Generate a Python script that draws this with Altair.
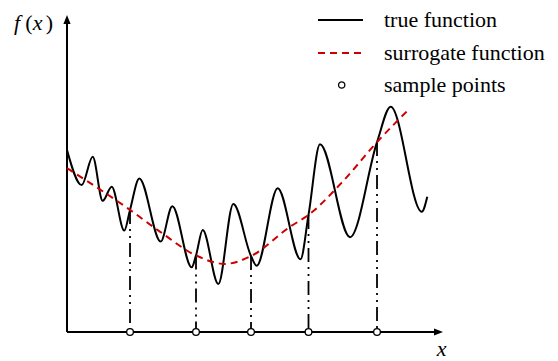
import altair as alt
import pandas as pd

# ---------------- data ----------------
true_x = [0.0, 0.391, 0.684, 0.949, 1.189, 1.524, 1.676, 1.923, 2.492, 2.801,
          3.316, 3.431, 3.609, 4.024, 4.423, 4.894, 5.045, 5.604, 6.210, 6.423,
          6.729, 7.527, 8.245, 8.609, 9.434, 9.582]
true_y = [5.80, 4.68, 5.58, 4.18, 4.63, 3.23, 3.89, 4.89, 2.88, 4.01,
          2.06, 2.44, 3.25, 1.53, 4.08, 2.42, 2.11, 4.58, 2.32, 3.73,
          5.98, 3.02, 6.05, 7.18, 3.83, 4.31]

surr_x = [0.0, 1.676, 2.47, 3.431, 4.20, 4.894, 5.93, 6.423, 7.30, 8.245, 9.122]
surr_y = [5.22, 3.89, 3.20, 2.44, 2.17, 2.42, 3.35, 3.73, 4.75, 6.05, 7.13]

sample_x = [1.676, 3.431, 4.894, 6.423, 8.245]
sample_y = [3.89, 2.44, 2.42, 3.73, 6.05]

legend_labels = ["true function", "surrogate function", "sample points"]
x_label = "x"
y_label_parts = ["f", "(", "x", ")"]

X_MAX = 10.0
Y_MAX = 10.1
W, H = 376, 317
FONT = "'Liberation Serif', 'Times New Roman', 'DejaVu Serif', serif"
FS = 22
RED = "#cc0000"

xs = alt.Scale(domain=[0, X_MAX], nice=False, zero=False)
ys = alt.Scale(domain=[0, Y_MAX], nice=False, zero=False)

true_df = pd.DataFrame({"x": true_x, "y": true_y})
surr_df = pd.DataFrame({"x": surr_x, "y": surr_y})
samp_df = pd.DataFrame({"x": sample_x, "y": sample_y, "zero": [0.0] * len(sample_x)})
axes_df = pd.DataFrame({"x": [0.0, 0.0], "y": [0.0, 0.0],
                        "x2": [X_MAX - 0.1, 0.0], "y2": [0.0, Y_MAX - 0.1]})


def X(f="x"):
    return alt.X(f"{f}:Q", scale=xs, axis=None)


def Y(f="y"):
    return alt.Y(f"{f}:Q", scale=ys, axis=None)


axes = alt.Chart(axes_df).mark_rule(color="black", strokeWidth=2).encode(
    x=X(), y=Y(), x2="x2:Q", y2="y2:Q")

x_arrow = alt.Chart(pd.DataFrame({"x": [X_MAX], "y": [0.0]})).mark_point(
    shape="M1,0L-1,-0.8L-1,0.8Z", filled=True, size=81, color="black",
    opacity=1, xOffset=-4.5).encode(x=X(), y=Y())
y_arrow = alt.Chart(pd.DataFrame({"x": [0.0], "y": [Y_MAX]})).mark_point(
    shape="M0,-1L-0.8,1L0.8,1Z", filled=True, size=81, color="black",
    opacity=1, yOffset=4.5).encode(x=X(), y=Y())

drops = alt.Chart(samp_df).mark_rule(
    color="black", strokeWidth=1.8, strokeDash=[14, 5, 2, 5, 2, 5]).encode(
    x=X(), y=Y(), y2="zero:Q")

true_line = alt.Chart(true_df).mark_line(
    color="black", strokeWidth=2, interpolate="monotone").encode(x=X(), y=Y())

surr_line = alt.Chart(surr_df).mark_line(
    color=RED, strokeWidth=2, strokeDash=[7, 5], interpolate="monotone").encode(x=X(), y=Y())

circles = alt.Chart(samp_df).mark_point(
    shape="circle", filled=True, fill="white", stroke="black", strokeWidth=1.3,
    size=45, opacity=1).encode(x=X(), y=Y("zero"))

layers = [axes, x_arrow, y_arrow, drops, true_line, surr_line, circles]

# ---- y label f (x)
yl_x = [-50, -38, -29.5, -17.5]
yl_italic = [True, False, True, False]
for t, px, it in zip(y_label_parts, yl_x, yl_italic):
    layers.append(alt.Chart(pd.DataFrame({"t": [t]})).mark_text(
        font=FONT, fontSize=FS, fontStyle="italic" if it else "normal",
        align="center", baseline="alphabetic", color="black").encode(
        text="t:N", x=alt.value(px), y=alt.value(15)))

# ---- x label
layers.append(alt.Chart(pd.DataFrame({"t": [x_label]})).mark_text(
    font=FONT, fontSize=FS, fontStyle="italic", align="center",
    baseline="alphabetic", color="black").encode(
    text="t:N", x=alt.value(374.5), y=alt.value(341)))

# ---- legend
row_y = [5, 38, 70]
layers.append(alt.Chart(pd.DataFrame({"a": [0]})).mark_rule(
    color="black", strokeWidth=2).encode(
    x=alt.value(251), x2=alt.value(296), y=alt.value(row_y[0])))
layers.append(alt.Chart(pd.DataFrame({"a": [0]})).mark_rule(
    color=RED, strokeWidth=2, strokeDash=[7, 5]).encode(
    x=alt.value(251), x2=alt.value(296), y=alt.value(row_y[1])))
layers.append(alt.Chart(pd.DataFrame({"a": [0]})).mark_point(
    shape="circle", filled=True, fill="white", stroke="black", strokeWidth=1.3,
    size=40, opacity=1).encode(x=alt.value(274.7), y=alt.value(row_y[2])))
for lab, ry in zip(legend_labels, row_y):
    layers.append(alt.Chart(pd.DataFrame({"t": [lab]})).mark_text(
        font=FONT, fontSize=FS, align="left", baseline="alphabetic",
        color="black").encode(text="t:N", x=alt.value(317), y=alt.value(ry + 6.5)))

chart = alt.layer(*layers).properties(
    width=W, height=H,
    autosize=alt.AutoSizeParams(type="none"),
    padding={"left": 59, "top": 7, "right": 105, "bottom": 28},
).configure_view(stroke=None)

chart.save("out.html", embed_options={"renderer": "svg", "actions": False})
